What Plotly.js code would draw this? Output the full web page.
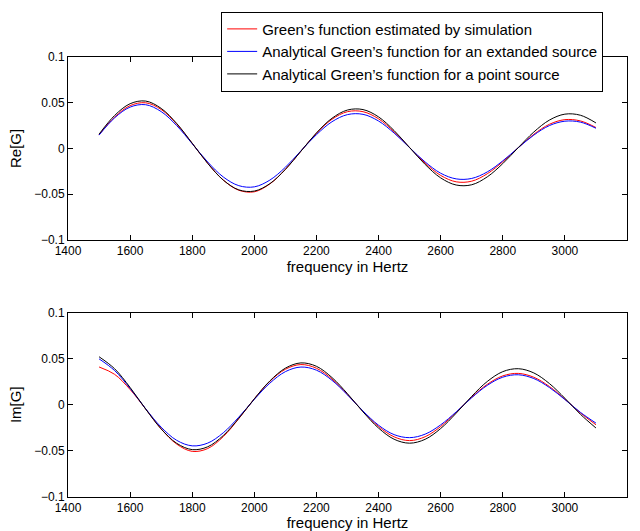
<!DOCTYPE html>
<html>
<head>
<meta charset="utf-8">
<script src="https://cdn.plot.ly/plotly-3.0.1.min.js"></script>
<style>html,body{margin:0;padding:0;background:#fff;}#chart{width:640px;height:531px;}</style>
</head>
<body>
<div id="chart"></div>
<script>
const freq = [1500,1550,1600,1650,1700,1750,1800,1850,1900,1950,2000,2050,2100,2150,2200,2250,2300,2350,2400,2450,2500,2550,2600,2650,2700,2750,2800,2850,2900,2950,3000,3050,3100];

const reSim = [0.0149,0.0341,0.0467,0.0498,0.0425,0.0266,0.0055,-0.0163,-0.0346,-0.0457,-0.0474,-0.0388,-0.0229,-0.0030,0.0165,0.0318,0.0401,0.0401,0.0323,0.0182,0.0009,-0.0161,-0.0295,-0.0365,-0.0358,-0.0277,-0.0146,0.0008,0.0154,0.0263,0.0314,0.0300,0.0228];
const reExt = [0.0145,0.0333,0.0451,0.0477,0.0402,0.0249,0.0051,-0.0149,-0.0312,-0.0407,-0.0420,-0.0346,-0.0206,-0.0027,0.0150,0.0291,0.0369,0.0372,0.0299,0.0168,0.0008,-0.0148,-0.0271,-0.0333,-0.0328,-0.0257,-0.0136,0.0008,0.0145,0.0249,0.0297,0.0287,0.0220];
const rePt  = [0.0155,0.0359,0.0488,0.0517,0.0437,0.0272,0.0056,-0.0164,-0.0346,-0.0453,-0.0466,-0.0385,-0.0229,-0.0031,0.0169,0.0329,0.0419,0.0424,0.0344,0.0195,0.0009,-0.0175,-0.0322,-0.0400,-0.0397,-0.0311,-0.0166,0.0009,0.0179,0.0309,0.0374,0.0362,0.0278];

const imSim = [0.0410,0.0330,0.0165,-0.0046,-0.0263,-0.0428,-0.0507,-0.0476,-0.0347,-0.0151,0.0064,0.0254,0.0385,0.0436,0.0396,0.0279,0.0111,-0.0073,-0.0237,-0.0349,-0.0390,-0.0348,-0.0237,-0.0083,0.0081,0.0221,0.0313,0.0340,0.0298,0.0198,0.0060,-0.0089,-0.0218];
const imExt = [0.0498,0.0371,0.0177,-0.0044,-0.0244,-0.0387,-0.0447,-0.0417,-0.0305,-0.0135,0.0058,0.0234,0.0359,0.0409,0.0375,0.0265,0.0106,-0.0069,-0.0223,-0.0325,-0.0358,-0.0320,-0.0219,-0.0078,0.0076,0.0210,0.0299,0.0325,0.0284,0.0187,0.0056,-0.0083,-0.0200];
const imPt  = [0.0521,0.0391,0.0187,-0.0047,-0.0263,-0.0419,-0.0488,-0.0457,-0.0335,-0.0148,0.0064,0.0258,0.0397,0.0454,0.0417,0.0295,0.0119,-0.0078,-0.0254,-0.0375,-0.0418,-0.0376,-0.0259,-0.0092,0.0091,0.0252,0.0359,0.0391,0.0345,0.0230,0.0070,-0.0104,-0.0253];

const seriesNames = [
  "Green\u2019s function estimated by simulation",
  "Analytical Green\u2019s function for an extanded source",
  "Analytical Green\u2019s function for a point source"
];
const seriesColors = ["#ff0000", "#0000ff", "#000000"];

const reData = [reSim, reExt, rePt];
const imData = [imSim, imExt, imPt];

const traces = [];
reData.forEach((ys, i) => traces.push({
  x: freq, y: ys, type: 'scatter', mode: 'lines', name: seriesNames[i],
  line: {color: seriesColors[i], width: 1, shape: 'spline', smoothing: 1},
  xaxis: 'x', yaxis: 'y', showlegend: true
}));
imData.forEach((ys, i) => traces.push({
  x: freq, y: ys, type: 'scatter', mode: 'lines', name: seriesNames[i],
  line: {color: seriesColors[i], width: 1, shape: 'spline', smoothing: 1},
  xaxis: 'x2', yaxis: 'y2', showlegend: false
}));

const font = {family: 'Liberation Sans, Arial, Helvetica, sans-serif', color: '#000'};
function xax(anchor) {
  return {
    range: [1400, 3200], dtick: 200, tick0: 1400, anchor: anchor,
    showgrid: false, zeroline: false, showline: true, linecolor: '#000', linewidth: 1,
    mirror: 'ticks', ticks: 'inside', ticklen: 5, tickcolor: '#000',
    tickfont: Object.assign({size: 12}, font),
    title: {text: 'frequency in Hertz', font: Object.assign({size: 15}, font), standoff: 1},
    automargin: false, fixedrange: true
  };
}
function yax(anchor, domain, label) {
  return {
    range: [-0.1, 0.1], dtick: 0.05, tick0: -0.1, anchor: anchor, domain: domain,
    showgrid: false, zeroline: false, showline: true, linecolor: '#000', linewidth: 1,
    mirror: 'ticks', ticks: 'inside', ticklen: 5, tickcolor: '#000',
    tickfont: Object.assign({size: 12}, font),
    title: {text: label, font: Object.assign({size: 15}, font), standoff: 8},
    automargin: false, fixedrange: true
  };
}

const layout = {
  width: 640, height: 531,
  margin: {l: 68, r: 13, t: 20, b: 20},
  paper_bgcolor: '#fff', plot_bgcolor: '#fff',
  font: font,
  xaxis: Object.assign(xax('y'), {domain: [0, 1]}),
  yaxis: yax('x', [0.552, 0.925], 'Re[G]'),
  xaxis2: Object.assign(xax('y2'), {domain: [0, 1]}),
  yaxis2: yax('x2', [0.029, 0.404], 'Im[G]'),
  showlegend: true,
  legend: {
    x: 0.274, y: 1.017, xanchor: 'left', yanchor: 'top',
    bgcolor: '#fff', bordercolor: '#000', borderwidth: 1,
    font: Object.assign({size: 15}, font)
  }
};

Plotly.newPlot('chart', traces, layout, {staticPlot: true, displayModeBar: false});
</script>
</body>
</html>
